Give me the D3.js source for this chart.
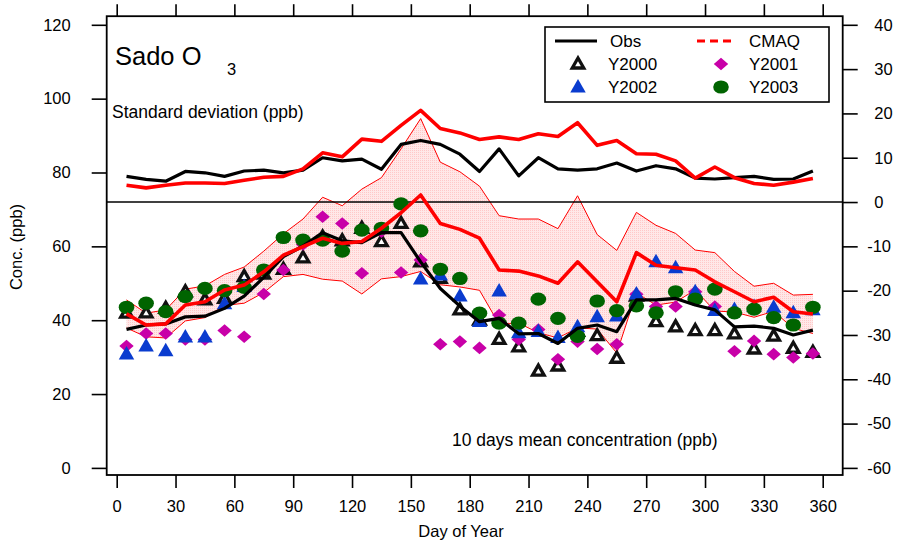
<!DOCTYPE html>
<html>
<head>
<meta charset="utf-8">
<script src="https://cdn.jsdelivr.net/npm/d3@7"></script>
<style>
  html, body { margin: 0; padding: 0; background: #fff; }
  svg { display: block; font-family: "Liberation Sans", Arial, sans-serif; }
</style>
</head>
<body>
<svg id="chart" width="910" height="541"></svg>
<script>
// Day of year (centre of each 10-day window)
const days = [5, 15, 25, 35, 45, 55, 65, 75, 85, 95, 105, 115, 125, 135, 145, 155, 165, 175,
              185, 195, 205, 215, 225, 235, 245, 255, 265, 275, 285, 295, 305, 315, 325, 335, 345, 355];

// 10-day mean concentration (ppb), left axis
const obsMean = [37.5, 38.7, 39.0, 40.9, 41.1, 43.2, 46.5, 51.6, 57.2, 60.1, 63.7, 61.5, 61.0, 63.7, 63.7, 55.8, 48.6, 43.8,
                 39.6, 40.5, 36.3, 36.4, 33.7, 37.8, 38.7, 36.9, 45.5, 45.5, 45.9, 44.1, 42.8, 38.2, 38.4, 37.8, 36.0, 37.3];
const cmaqMean = [41.7, 38.7, 39.0, 44.1, 45.0, 48.2, 49.5, 53.1, 57.6, 59.9, 62.2, 60.8, 61.3, 64.9, 69.1, 73.9, 66.2, 64.6,
                  62.2, 53.6, 53.3, 52.0, 50.0, 55.8, 50.4, 45.0, 58.3, 54.9, 54.2, 53.6, 50.4, 47.7, 45.0, 46.2, 42.3, 41.7];

// Standard deviation (ppb), right axis
const obsSd = [5.8, 5.1, 4.7, 6.9, 6.6, 5.8, 7.0, 7.2, 6.6, 7.2, 10.0, 9.3, 9.7, 7.4, 13.0, 13.9, 13.0, 10.8,
               6.9, 12.0, 5.9, 10.0, 7.5, 7.2, 7.5, 8.8, 7.0, 8.2, 7.5, 5.4, 5.2, 5.5, 5.8, 5.1, 5.2, 7.0];
const cmaqSd = [3.8, 3.2, 3.8, 4.3, 4.3, 4.2, 4.9, 5.6, 5.8, 7.5, 11.1, 10.2, 14.2, 13.7, 17.3, 20.7, 16.6, 15.6,
                14.1, 14.7, 14.1, 15.4, 14.8, 17.9, 12.8, 13.9, 10.9, 10.8, 9.3, 5.4, 7.9, 5.5, 4.2, 3.8, 4.5, 5.3];

// Observed 10-day means for individual years (ppb); null = no data
const y2000 = [41.9, 42.0, 43.2, 47.7, 45.5, 45.9, 51.8, 52.5, 53.8, 56.9, 62.5, 61.5, 64.9, 61.3, 66.2, 55.8, 51.3, 42.8,
               40.0, 34.8, 32.8, 26.2, 27.6, 37.0, 35.8, 29.7, 46.5, 39.6, 38.2, 37.2, 37.2, 36.3, 32.2, 35.7, 32.4, 31.3];
const y2001 = [33.0, 36.4, 36.4, 34.8, 34.8, 37.2, 35.5, 47.1, 53.6, 60.5, 68.0, 66.2, 52.7, 64.0, 52.9, 56.3, 33.5, 34.2,
               32.5, 41.4, 34.8, 37.5, 29.4, 34.2, 32.2, 33.5, 47.0, 43.7, 43.7, 47.7, 43.7, 31.6, 34.4, 30.8, 29.9, 31.0];
const y2002 = [30.8, 33.0, 31.7, 35.4, 35.4, 44.4, 49.1, null, null, null, null, null, null, null, null, 51.1, 52.2, 46.5,
               39.6, 47.9, 36.6, 36.9, 35.3, 38.2, 40.9, 41.1, 47.1, 55.8, 54.2, 47.7, 42.6, 42.9, 43.7, 43.5, 42.0, 42.8];
const y2003 = [43.5, 44.6, 42.3, 46.4, 48.6, 48.0, 48.9, 53.6, 62.4, 61.7, 61.7, 58.7, 64.4, 64.9, 71.5, 64.2, 53.8, 51.3,
               41.9, 39.2, 39.2, 45.7, 40.5, 35.6, 45.2, 42.6, 43.9, 42.0, 47.7, 45.7, 48.4, 42.0, 43.0, 40.7, 38.7, 43.5];

// Tick values
const xTicks = [0, 30, 60, 90, 120, 150, 180, 210, 240, 270, 300, 330, 360];
const leftTicks = [0, 20, 40, 60, 80, 100, 120];
const rightTicks = [-60, -50, -40, -30, -20, -10, 0, 10, 20, 30, 40];

const FONT = 16.5;
const frame = { left: 106.7, right: 842.7, top: 16.2, bottom: 475 };

const x = d3.scaleLinear().domain([0, 360]).range([116.7, 822.7]);
const yL = d3.scaleLinear().domain([0, 120]).range([467.9, 24.8]);
const yR = d3.scaleLinear().domain([-60, 40]).range([467.9, 24.8]);

const svg = d3.select("#chart");

// hatched pink fill for the model spread band
const defs = svg.append("defs");
const pat = defs.append("pattern").attr("id", "bandFill")
  .attr("patternUnits", "userSpaceOnUse").attr("width", 2).attr("height", 2);
pat.append("rect").attr("width", 2).attr("height", 2).attr("fill", "#ffe8e8");
pat.append("rect").attr("width", 1).attr("height", 1).attr("fill", "#ffc8c8");

const pts = days.map((d, i) => ({ d, i }));

// CMAQ mean ± sd band
const area = d3.area()
  .x(p => x(p.d))
  .y0(p => yL(cmaqMean[p.i] - cmaqSd[p.i]))
  .y1(p => yL(cmaqMean[p.i] + cmaqSd[p.i]));
svg.append("path").datum(pts).attr("d", area).attr("fill", "url(#bandFill)").attr("stroke", "none");
const edgeHi = d3.line().x(p => x(p.d)).y(p => yL(cmaqMean[p.i] + cmaqSd[p.i]));
const edgeLo = d3.line().x(p => x(p.d)).y(p => yL(cmaqMean[p.i] - cmaqSd[p.i]));
svg.append("path").datum(pts).attr("d", edgeHi).attr("fill", "none").attr("stroke", "#ff0000").attr("stroke-width", 1);
svg.append("path").datum(pts).attr("d", edgeLo).attr("fill", "none").attr("stroke", "#ff0000").attr("stroke-width", 1);

// zero line of the standard-deviation axis
svg.append("line")
  .attr("x1", frame.left).attr("x2", frame.right)
  .attr("y1", yR(0)).attr("y2", yR(0))
  .attr("stroke", "#000").attr("stroke-width", 1.6);

// yearly markers
const triPath = (w, h) => `M0,${-h * 0.6}L${w / 2},${h * 0.4}L${-w / 2},${h * 0.4}Z`;
const markers = {
  y2000: g => g.append("path").attr("d", triPath(11.5, 10)).attr("fill", "#fff").attr("stroke", "#111").attr("stroke-width", 3.3).attr("stroke-linejoin", "miter"),
  y2001: g => g.append("path").attr("d", "M0,-6.3L7.2,0L0,6.3L-7.2,0Z").attr("fill", "#c800a8"),
  y2002: g => g.append("path").attr("d", triPath(15.5, 13.5)).attr("fill", "#0a3ccf"),
  y2003: g => g.append("ellipse").attr("rx", 7.8).attr("ry", 6.6).attr("fill", "#006400")
};
[[y2000, "y2000"], [y2001, "y2001"], [y2002, "y2002"], [y2003, "y2003"]].forEach(([vals, key]) => {
  const g = svg.append("g").attr("class", key);
  vals.forEach((v, i) => {
    if (v == null) return;
    const m = g.append("g").attr("transform", `translate(${x(days[i])},${yL(v)})`);
    markers[key](m);
  });
});

// mean lines
const meanLine = arr => d3.line().x((d, i) => x(days[i])).y(v => yL(v))(arr);
const sdLine = arr => d3.line().x((d, i) => x(days[i])).y(v => yR(v))(arr);
svg.append("path").attr("d", meanLine(obsMean)).attr("fill", "none").attr("stroke", "#000").attr("stroke-width", 3.2).attr("stroke-linejoin", "round");
svg.append("path").attr("d", meanLine(cmaqMean)).attr("fill", "none").attr("stroke", "#ff0000").attr("stroke-width", 3.6).attr("stroke-linejoin", "round");
svg.append("path").attr("d", sdLine(obsSd)).attr("fill", "none").attr("stroke", "#000").attr("stroke-width", 3.2).attr("stroke-linejoin", "round");
svg.append("path").attr("d", sdLine(cmaqSd)).attr("fill", "none").attr("stroke", "#ff0000").attr("stroke-width", 3.6).attr("stroke-linejoin", "round");

// frame
svg.append("rect")
  .attr("x", frame.left).attr("y", frame.top)
  .attr("width", frame.right - frame.left).attr("height", frame.bottom - frame.top)
  .attr("fill", "none").attr("stroke", "#000").attr("stroke-width", 1.8);

// axes
function styleAxis(g) {
  g.select(".domain").remove();
  g.selectAll(".tick line").attr("stroke", "#000").attr("stroke-width", 1.6);
  g.selectAll(".tick text").attr("fill", "#000").style("font-size", FONT + "px").style("font-family", '"Liberation Sans", Arial, sans-serif');
}
svg.append("g").attr("transform", `translate(0,${frame.bottom})`)
  .call(d3.axisBottom(x).tickValues(xTicks).tickSize(13).tickPadding(12).tickFormat(d3.format("d")))
  .call(styleAxis);
svg.append("g").attr("transform", `translate(0,${frame.top})`)
  .call(d3.axisTop(x).tickValues(xTicks).tickSize(12).tickFormat(""))
  .call(styleAxis);
svg.append("g").attr("transform", `translate(${frame.left},0)`)
  .call(d3.axisLeft(yL).tickValues(leftTicks).tickSize(15).tickPadding(21).tickFormat(d3.format("d")))
  .call(styleAxis);
const rAxis = svg.append("g").attr("transform", `translate(${frame.right},0)`)
  .call(d3.axisRight(yR).tickValues(rightTicks).tickSize(15).tickPadding(16).tickFormat(d => d < 0 ? "-" + Math.abs(d) : String(d)))
  .call(styleAxis);
rAxis.selectAll(".tick text").attr("x", d => d < 0 ? 24.5 : 31.5);

// axis titles
svg.append("text").attr("x", 461).attr("y", 537).attr("text-anchor", "middle")
  .style("font-size", FONT + "px").text("Day of Year");
svg.append("text").attr("transform", "translate(22,247) rotate(-90)").attr("text-anchor", "middle")
  .style("font-size", FONT + "px").text("Conc. (ppb)");

// annotations
svg.append("text").attr("x", 115).attr("y", 65).style("font-size", "25.5px").text("Sado O");
svg.append("text").attr("x", 227).attr("y", 75).style("font-size", FONT + "px").text("3");
svg.append("text").attr("x", 112).attr("y", 118).style("font-size", "17.5px").text("Standard deviation (ppb)");
svg.append("text").attr("x", 452).attr("y", 446).style("font-size", "17.5px").text("10 days mean concentration (ppb)");

// legend
const lg = svg.append("g");
lg.append("rect").attr("x", 545).attr("y", 27).attr("width", 284).attr("height", 75)
  .attr("fill", "#fff").attr("stroke", "#000").attr("stroke-width", 1.6);
const rows = [41, 64, 87];
lg.append("line").attr("x1", 555).attr("x2", 597).attr("y1", rows[0]).attr("y2", rows[0]).attr("stroke", "#000").attr("stroke-width", 3.2);
lg.append("line").attr("x1", 697).attr("x2", 733).attr("y1", rows[0]).attr("y2", rows[0]).attr("stroke", "#ff0000").attr("stroke-width", 3.2).attr("stroke-dasharray", "8,5");
const legItems = [
  { key: "y2000", label: "Y2000", cx: 578, cy: rows[1], tx: 608 },
  { key: "y2001", label: "Y2001", cx: 721, cy: rows[1], tx: 749 },
  { key: "y2002", label: "Y2002", cx: 578, cy: rows[2], tx: 608 },
  { key: "y2003", label: "Y2003", cx: 721, cy: rows[2], tx: 749 }
];
legItems.forEach(it => {
  const m = lg.append("g").attr("transform", `translate(${it.cx},${it.cy})`);
  markers[it.key](m);
  lg.append("text").attr("x", it.tx).attr("y", it.cy + 6).style("font-size", "17px").text(it.label);
});
lg.append("text").attr("x", 610).attr("y", rows[0] + 6).style("font-size", "17px").text("Obs");
lg.append("text").attr("x", 749).attr("y", rows[0] + 6).style("font-size", "17px").text("CMAQ");
</script>
</body>
</html>
